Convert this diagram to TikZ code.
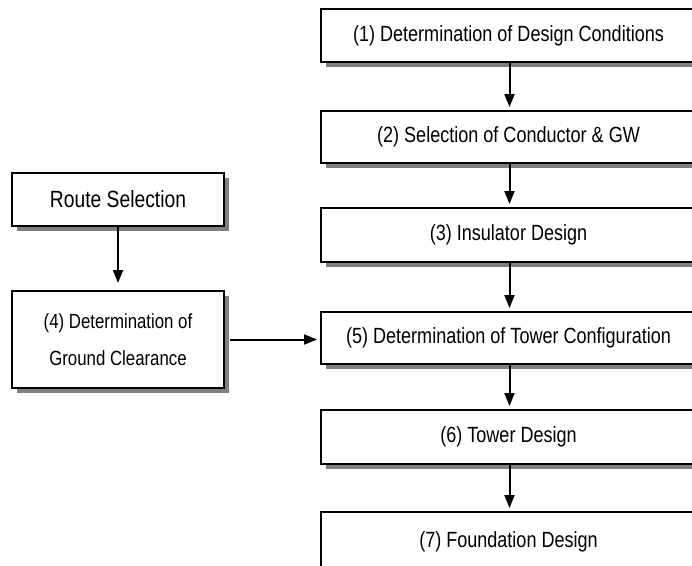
\documentclass[tikz,border=0pt]{standalone}
\usepackage{fontspec}
\setmainfont{Liberation Sans}[FakeStretch=0.82]
\usetikzlibrary{arrows.meta,shadows}
\begin{document}
\begin{tikzpicture}[x=1pt,y=-1pt,
  box/.style={draw=black,line width=2pt,fill=white,inner sep=0pt,
    font=\fontsize{22}{37}\selectfont,align=center,
    drop shadow={shadow xshift=5pt,shadow yshift=-5pt,fill=black!50,opacity=1}},
  rbox/.style={box,minimum width=375pt},
  lbox/.style={box,minimum width=212pt},
  arr/.style={line width=2pt,-{Triangle[length=13pt,width=10pt]},shorten >=3pt}]
\useasboundingbox (0,0) rectangle (692,565);
\clip (0,0) rectangle (692,565);
\fill[white] (0,0) rectangle (692,565);
\node[rbox,minimum height=53pt] (b1) at (508.5,35.5) {(1) Determination of Design Conditions};
\node[rbox,minimum height=52pt] (b2) at (508.5,137) {(2) Selection of Conductor \& GW};
\node[rbox,minimum height=54pt] (b3) at (508.5,235) {(3) Insulator Design};
\node[rbox,minimum height=52pt] (b5) at (508.5,338) {(5) Determination of Tower Configuration};
\node[rbox,minimum height=54pt] (b6) at (508.5,437) {(6) Tower Design};
\node[rbox,minimum height=60pt] (b7) at (508.5,542) {(7) Foundation Design};
\node[lbox,minimum height=53pt,font=\fontsize{23.5}{37}\selectfont] (rs) at (118,199.5) {Route Selection};
\node[lbox,minimum height=97pt,font=\fontsize{20.5}{37}\selectfont] (b4) at (118,339.5) {(4) Determination of\\Ground Clearance};
\coordinate (ax) at (509.5,0);
\draw[arr] (b1.south -| ax) -- (b2.north -| ax);
\draw[arr] (b2.south -| ax) -- (b3.north -| ax);
\draw[arr] (b3.south -| ax) -- (b5.north -| ax);
\draw[arr] (b5.south -| ax) -- (b6.north -| ax);
\draw[arr] (b6.south -| ax) -- (b7.north -| ax);
\draw[arr,shorten >=7pt] (rs.south) -- (b4.north);
\draw[arr,shorten <=5pt] (b4.east) -- (b5.west |- b4.east);
\end{tikzpicture}
\end{document}
